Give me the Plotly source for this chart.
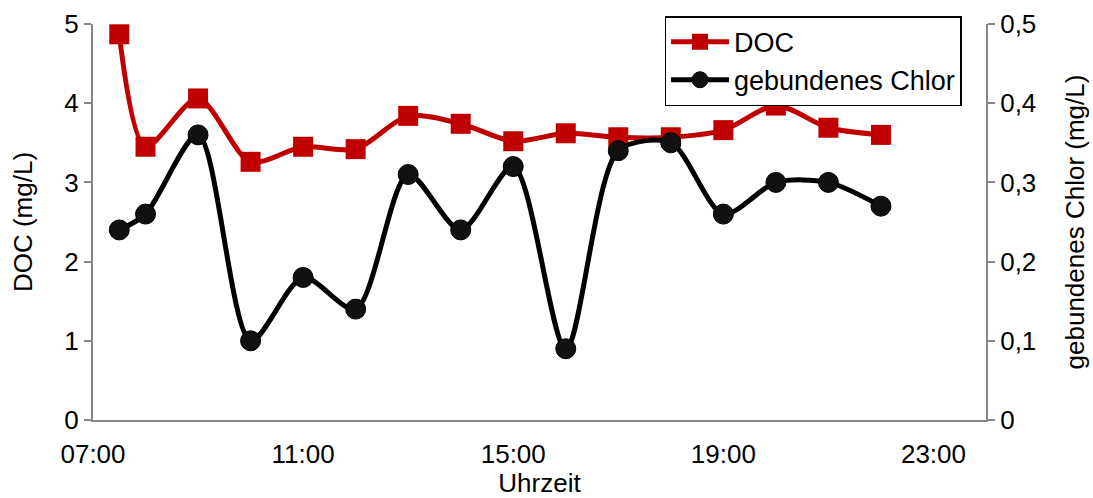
import plotly.graph_objects as go

# Sampling times (hh:mm) over one day
times = ["07:30", "08:00", "09:00", "10:00", "11:00", "12:00", "13:00", "14:00",
         "15:00", "16:00", "17:00", "18:00", "19:00", "20:00", "21:00", "22:00"]

# Dissolved organic carbon (mg/L)
doc = [4.87, 3.45, 4.06, 3.26, 3.45, 3.42, 3.84, 3.74,
       3.52, 3.62, 3.57, 3.57, 3.66, 3.97, 3.69, 3.60]

# Combined chlorine (mg/L)
chlor = [0.24, 0.26, 0.36, 0.10, 0.18, 0.14, 0.31, 0.24,
         0.32, 0.09, 0.34, 0.35, 0.26, 0.30, 0.30, 0.27]

day = "2020-01-01 "
x = [day + t for t in times]

FONT = "Liberation Sans, Arial, sans-serif"
AXIS_GREY = "#868686"
FS = 26

fig = go.Figure()
fig.add_trace(go.Scatter(
    x=x, y=doc, name="DOC", mode="lines+markers",
    line=dict(color="#C00000", width=5, shape="spline", smoothing=0.8),
    marker=dict(symbol="square", size=20, color="#C00000"),
))
fig.add_trace(go.Scatter(
    x=x, y=chlor, name="gebundenes Chlor", mode="lines+markers", yaxis="y2",
    line=dict(color="#000000", width=5, shape="spline", smoothing=0.8),
    marker=dict(symbol="circle", size=20, color="#111111",
                line=dict(color="#000000", width=1)),
))

fig.update_layout(
    width=1093, height=498,
    margin=dict(l=93, r=107, t=24, b=78),
    paper_bgcolor="white", plot_bgcolor="white",
    separators=",.",
    font=dict(family=FONT, size=FS, color="#000000"),
    showlegend=True,
    legend=dict(
        x=0.64, y=1.02, xanchor="left", yanchor="top",
        bgcolor="white", bordercolor="#000000", borderwidth=1.5,
        font=dict(family=FONT, size=27, color="#000000"),
        tracegroupgap=0, itemwidth=58,
    ),
    xaxis=dict(
        type="date", automargin=False,
        range=[day + "07:00", "2020-01-02 00:00"],
        tick0=day + "07:00", dtick=4 * 3600 * 1000,
        tickformat="%H:%M",
        showgrid=False, zeroline=False,
        showline=True, linecolor=AXIS_GREY, linewidth=2,
        ticks="outside", ticklen=10, tickcolor="rgba(0,0,0,0)",
        tickfont=dict(family=FONT, size=FS),
        title=dict(text="Uhrzeit", font=dict(family=FONT, size=FS), standoff=6),
    ),
    yaxis=dict(
        range=[0, 5], dtick=1, automargin=False,
        showgrid=False, zeroline=False,
        showline=True, linecolor=AXIS_GREY, linewidth=2,
        ticks="outside", ticklen=7, tickcolor=AXIS_GREY, tickwidth=2,
        tickfont=dict(family=FONT, size=FS),
        title=dict(text="DOC (mg/L)", font=dict(family=FONT, size=FS), standoff=24),
    ),
    yaxis2=dict(
        range=[0, 0.5], dtick=0.1, overlaying="y", side="right", automargin=False,
        showgrid=False, zeroline=False,
        showline=True, linecolor=AXIS_GREY, linewidth=2,
        ticks="outside", ticklen=7, tickcolor=AXIS_GREY, tickwidth=2,
        tickfont=dict(family=FONT, size=FS),
        title=dict(text="gebundenes Chlor (mg/L)", font=dict(family=FONT, size=FS), standoff=30),
    ),
)

fig.write_html("out.html")
